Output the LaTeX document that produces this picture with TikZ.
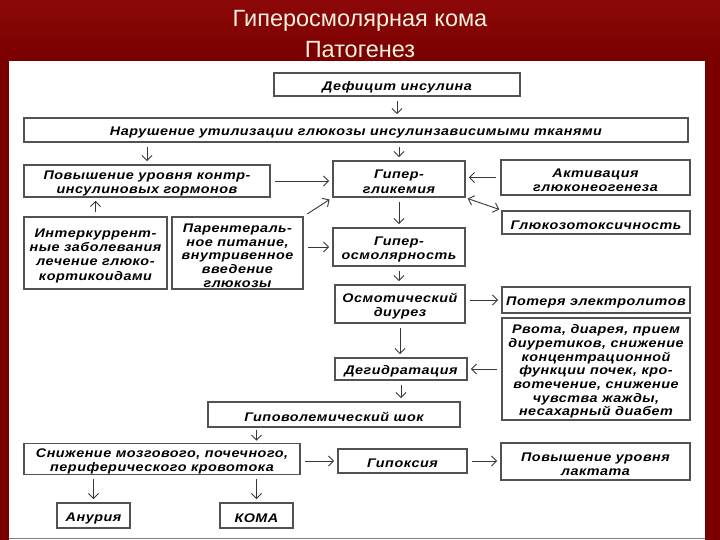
\documentclass[tikz,border=0pt]{standalone}
\usepackage{fontspec}
\setmainfont{Liberation Sans}
\newfontfamily\bxfont[LetterSpace=4,FakeStretch=1.15]{Liberation Sans}
\usetikzlibrary{arrows.meta}
\definecolor{bgred}{RGB}{122,0,0}
\definecolor{titlecol}{RGB}{246,240,222}
\definecolor{boxline}{RGB}{82,82,82}
\definecolor{arrcol}{RGB}{55,55,55}
\tikzset{
  box/.style={draw=boxline, line width=1.8pt, fill=white, inner sep=0pt, align=center,
    font=\bxfont\fontsize{12.5}{14.3}\selectfont\bfseries\itshape, text=black},
  tightbox/.style={box, font=\bxfont\fontsize{12.5}{13.7}\selectfont\bfseries\itshape},
  arr/.style={draw=arrcol, line width=0.9pt, -{Straight Barb[length=5pt,width=10pt]},
    shorten <=4pt, shorten >=3pt},
  darr/.style={arr, {Straight Barb[length=5pt,width=10pt]}-{Straight Barb[length=5pt,width=10pt]}},
  ttl/.style={text=titlecol, font=\fontsize{23.5}{26}\selectfont}
}
% place a box by left, top, right, bottom (pixels, y down); first argument = style
\newcommand{\pbox}[7][box]{%
  \node[#1, minimum width={(#5-#3)*1pt}, minimum height={(#6-#4)*1pt}] (#2) at ({(#3+#5)/2},{(#4+#6)/2}) {\rule{0pt}{14pt}#7};}
\begin{document}
\begin{tikzpicture}[x=1pt,y=-1pt]
\useasboundingbox (0,0) rectangle (720,540);
\fill[bgred] (0,0) rectangle (720,540);
\shade[top color={rgb,255:red,140;green,8;blue,8}, bottom color=bgred] (0,0) rectangle (720,61);
\fill[white] (9,61) rectangle (705,540);
\draw[gray, line width=1pt] (9,538) -- (705,538);
\node[ttl] (t1) at (360,21) {Гиперосмолярная кома};
\node[ttl] (t2) at (360,50) {Патогенез};

\pbox{def}{274}{73}{520}{96}{Дефицит инсулина}
\pbox{nar}{24}{118}{688}{142}{Нарушение утилизации глюкозы инсулинзависимыми тканями}
\pbox{pov}{24}{165}{270}{197}{Повышение уровня контр-\\инсулиновых гормонов}
\pbox{gip}{333}{161}{465}{197}{Гипер-\\гликемия}
\pbox{akt}{501}{160}{690}{195}{Активация\\глюконеогенеза}
\pbox{tox}{502}{211}{690}{234}{Глюкозотоксичность}
\pbox{int}{24}{217}{167}{289}{Интеркуррент-\\ные заболевания\\лечение глюко-\\кортикоидами}
\pbox[tightbox]{par}{172}{217}{303}{289}{Парентераль-\\ное питание,\\внутривенное\\введение\\глюкозы}
\pbox{osm}{333}{228}{465}{266}{Гипер-\\осмолярность}
\pbox{diu}{335}{285}{465}{323}{Осмотический\\диурез}
\pbox{pot}{502}{287}{690}{313}{Потеря электролитов}
\pbox[tightbox]{rvo}{502}{318}{690}{420}{Рвота, диарея, прием\\диуретиков, снижение\\концентрационной\\функции почек, кро-\\вотечение, снижение\\чувства жажды,\\несахарный диабет}
\pbox{deg}{335}{358}{467}{380}{Дегидратация}
\pbox{shk}{208}{402}{460}{427}{Гиповолемический шок}
\pbox{sni}{24}{445}{300}{473}{Снижение мозгового, почечного,\\периферического кровотока}
\pbox{hyp}{338}{449}{467}{473}{Гипоксия}
\pbox{lak}{501}{443}{690}{480}{Повышение уровня\\лактата}
\pbox{anu}{57}{503}{130}{528}{Анурия}
\pbox{kom}{220}{503}{293}{528}{КОМА}

\draw[arr] (def.south) -- (def.south |- nar.north);
\draw[arr] (nar.south -| pov.north) -- (pov.north);
\draw[arr] (nar.south -| gip.north) -- (gip.north);
\draw[arr] (int.north) -- (int.north |- pov.south);
\draw[arr] (pov.east) -- (pov.east -| gip.west);
\draw[arr] (par.north east) -- (gip.south west);
\draw[arr] (osm.west -| par.east) -- (osm.west);
\draw[arr] (akt.west) -- (akt.west -| gip.east);
\draw[darr, shorten <=2pt, shorten >=2pt] (gip.south east) -- (tox.north west);
\draw[arr] (gip.south) -- (osm.north);
\draw[arr] (osm.south) -- (osm.south |- diu.north);
\draw[arr] (pot.west -| diu.east) -- (pot.west);
\draw[arr] (diu.south) -- (diu.south |- deg.north);
\draw[arr] (deg.east -| rvo.west) -- (deg.east);
\draw[arr] (deg.south) -- (deg.south |- shk.north);
\draw[arr, shorten <=2pt, shorten >=2pt] (shk.south -| kom.north) -- (sni.north -| kom.north);
\draw[arr] (sni.east |- hyp.west) -- (hyp.west);
\draw[arr] (hyp.east) -- (hyp.east -| lak.west);
\draw[arr] (sni.south -| anu.north) -- (anu.north);
\draw[arr] (sni.south -| kom.north) -- (kom.north);
\end{tikzpicture}
\end{document}
